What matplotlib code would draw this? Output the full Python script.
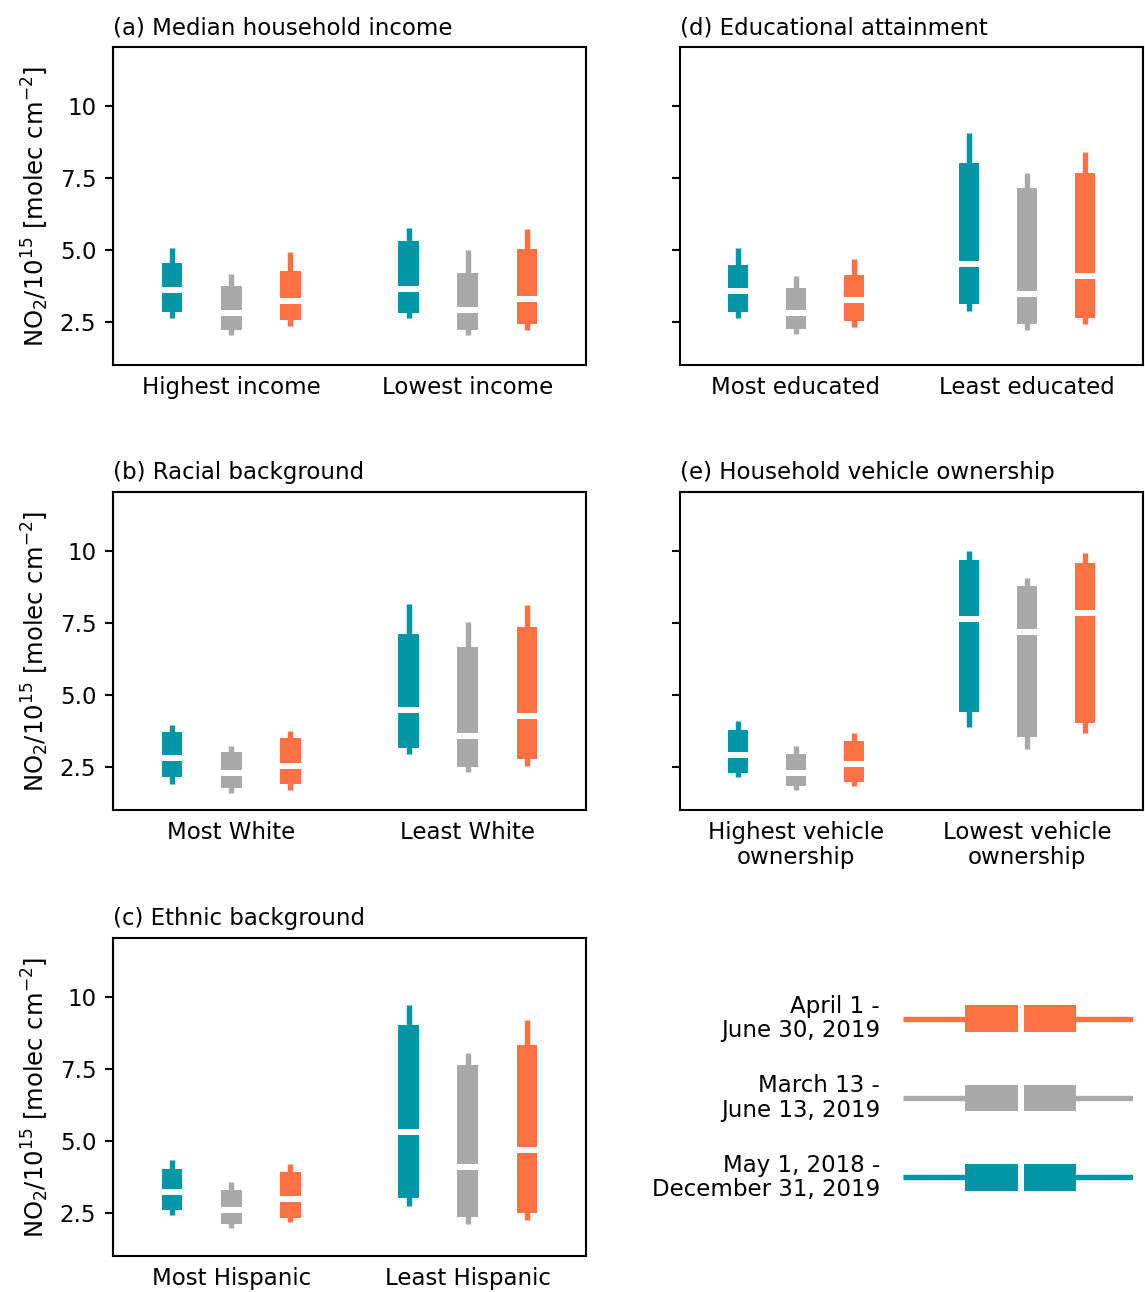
import matplotlib
matplotlib.use("Agg")
import matplotlib.pyplot as plt
import numpy as np

plt.rcParams['font.family'] = ['DejaVu Sans']
plt.rcParams['mathtext.fontset'] = 'dejavusans'

# colours: period order teal, gray, orange
period_labels = ["May 1, 2018 -\nDecember 31, 2019",
                 "March 13 -\nJune 13, 2019",
                 "April 1 -\nJune 30, 2019"]
period_colors = ["#0096a8", "#a9a9a9", "#ff7043"]

titles = ["(a) Median household income", "(b) Racial background",
          "(c) Ethnic background", "(d) Educational attainment",
          "(e) Household vehicle ownership"]
group_labels = [["Highest income", "Lowest income"],
                ["Most White", "Least White"],
                ["Most Hispanic", "Least Hispanic"],
                ["Most educated", "Least educated"],
                ["Highest vehicle\nownership", "Lowest vehicle\nownership"]]

# per panel, per group, per period: [low whisker, q1, median, q3, high whisker]
income = [[[2.62, 2.83, 3.60, 4.55, 5.07], [2.05, 2.22, 2.80, 3.75, 4.17], [2.36, 2.56, 3.24, 4.27, 4.92]],
          [[2.63, 2.80, 3.64, 5.31, 5.77], [2.05, 2.21, 2.92, 4.18, 5.01], [2.22, 2.41, 3.28, 5.04, 5.71]]]
race = [[[1.91, 2.13, 2.79, 3.72, 3.95], [1.60, 1.77, 2.29, 3.00, 3.23], [1.68, 1.90, 2.52, 3.51, 3.75]],
        [[2.93, 3.17, 4.46, 7.10, 8.17], [2.33, 2.49, 3.57, 6.66, 7.52], [2.52, 2.76, 4.25, 7.37, 8.14]]]
ethnic = [[[2.44, 2.61, 3.22, 4.03, 4.34], [1.97, 2.10, 2.61, 3.28, 3.57], [2.18, 2.33, 2.98, 3.91, 4.19]],
          [[2.73, 3.02, 5.31, 9.04, 9.72], [2.11, 2.36, 4.09, 7.65, 8.07], [2.26, 2.49, 4.67, 8.32, 9.20]]]
education = [[[2.62, 2.83, 3.57, 4.49, 5.06], [2.06, 2.25, 2.80, 3.69, 4.09], [2.33, 2.52, 3.25, 4.12, 4.69]],
             [[2.87, 3.11, 4.50, 8.02, 9.05], [2.21, 2.43, 3.46, 7.15, 7.67], [2.43, 2.64, 4.08, 7.67, 8.40]]]
vehicle = [[[2.13, 2.29, 2.91, 3.77, 4.09], [1.70, 1.83, 2.29, 2.94, 3.21], [1.83, 1.99, 2.59, 3.39, 3.68]],
           [[3.88, 4.39, 7.64, 9.70, 10.00], [3.12, 3.52, 7.18, 8.80, 9.06], [3.68, 4.04, 7.83, 9.58, 9.92]]]
panel_data = [income, race, ethnic, education, vehicle]

yticks = [2.5, 5.0, 7.5, 10]
ytick_labels = ["2.5", "5.0", "7.5", "10"]

W, H = 1145, 1292
fig = plt.figure(figsize=(W / 100, H / 100), dpi=100)

def rect(x0, y0, x1, y1):
    return [x0 / W, 1 - y1 / H, (x1 - x0) / W, (y1 - y0) / H]

rects = [rect(113, 47, 586, 365), rect(113, 492, 586, 810), rect(113, 938, 586, 1256),
         rect(680, 47, 1143, 365), rect(680, 492, 1143, 810)]

box_w = 0.087
offsets = [-0.25, 0.0, 0.25]
FS = 16.5

def draw_stat(ax, pos, st, color, vert=True, width=box_w):
    lo, q1, med, q3, hi = st
    if vert:
        ax.vlines(pos, lo, hi, color=color, lw=3.9, zorder=2)
        ax.bar(pos, q3 - q1, bottom=q1, width=width, color=color, lw=0, zorder=3)
        ax.hlines(med, pos - width / 2, pos + width / 2, color='white', lw=4.3, zorder=4)
    else:
        ax.hlines(pos, lo, hi, color=color, lw=3.9, zorder=2)
        ax.barh(pos, q3 - q1, left=q1, height=width, color=color, lw=0, zorder=3)
        ax.vlines(med, pos - width / 2, pos + width / 2, color='white', lw=4.3, zorder=4)

for i, (r, data) in enumerate(zip(rects, panel_data)):
    ax = fig.add_axes(r)
    for g, grp in enumerate(data):
        for p, st in enumerate(grp):
            draw_stat(ax, g + offsets[p], st, period_colors[p])
    ax.set_xlim(-0.5, 1.5)
    ax.set_ylim(1.0, 12.05)
    ax.set_xticks([0, 1])
    ax.set_xticklabels(group_labels[i], fontsize=FS, linespacing=1.1)
    ax.tick_params(axis='x', length=0, pad=8)
    ax.set_yticks(yticks)
    ax.tick_params(axis='y', length=6, width=1.5, pad=6)
    for s in ax.spines.values():
        s.set_linewidth(1.5)
    if i < 3:
        ax.set_yticklabels(ytick_labels, fontsize=FS)
        ax.set_ylabel(r"NO$_2$/10$^{15}$ [molec cm$^{-2}$]", fontsize=17.5, labelpad=6)
    else:
        ax.set_yticklabels([])
    ax.set_title(titles[i], loc='left', fontsize=FS, pad=9)

# legend panel
legend_stat = [0.0, 0.27, 0.515, 0.752, 1.0]
lax = fig.add_axes(rect(903, 990, 1133, 1210))
lax.set_xlim(0, 1)
lax.set_ylim(-0.41, 2.36)
lax.axis('off')
for p in range(3):
    draw_stat(lax, p, legend_stat, period_colors[p], vert=False, width=0.33)
    lax.text(-0.1, p, period_labels[p], ha='right', va='center',
             fontsize=FS, linespacing=1.1, transform=lax.transData)

fig.savefig("out.png", dpi=100)
